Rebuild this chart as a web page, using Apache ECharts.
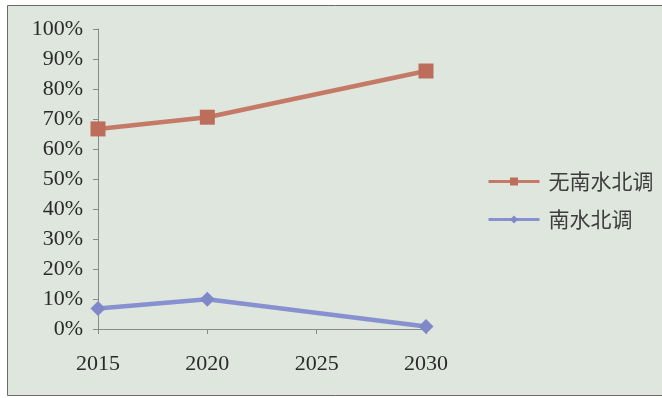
<!DOCTYPE html>
<html><head><meta charset="utf-8">
<script src="https://cdn.jsdelivr.net/npm/echarts@6/dist/echarts.min.js"></script>
<style>html,body{margin:0;padding:0;background:#fff}#c{width:662px;height:398px}</style>
</head><body><div id="c"></div>
<script>
const years = [2015, 2020, 2030];
const seriesNames = ['无南水北调', '南水北调'];
const withoutTransfer = [66.7, 70.6, 86];
const withTransfer = [6.8, 9.9, 0.8];
const yTicks = [0, 10, 20, 30, 40, 50, 60, 70, 80, 90, 100];

const chart = echarts.init(document.getElementById('c'));
const serif = '"Liberation Serif", "Times New Roman", serif';
chart.setOption({
  animation: false,
  backgroundColor: '#ffffff',
  graphic: [{
    type: 'rect', z: -10,
    shape: { x: 7.5, y: 5.5, width: 662, height: 390 },
    style: { fill: '#dee6dd', stroke: '#6a6a6a', lineWidth: 1 }
  }],
  grid: { left: 98, right: 236, top: 29, bottom: 69 },
  legend: {
    orient: 'vertical', left: 487, top: 171, itemGap: 17, padding: 0,
    itemWidth: 51, itemHeight: 10,
    lineStyle: { width: 3 },
    textStyle: { fontFamily: '"Noto Sans CJK SC", sans-serif', fontSize: 21, color: '#3d3d3d', padding: [0, 0, 0, 4] },
    data: seriesNames
  },
  xAxis: {
    type: 'value', min: 2015, max: 2030, interval: 5,
    axisLine: { show: true, lineStyle: { color: '#8a8a8a', width: 1 } },
    axisTick: { show: true, length: 5, lineStyle: { color: '#8a8a8a' } },
    splitLine: { show: false },
    axisLabel: { color: '#2a2a2a', fontFamily: serif, fontSize: 22, margin: 24, formatter: v => String(v) }
  },
  yAxis: {
    type: 'value', min: yTicks[0], max: yTicks[yTicks.length - 1], interval: 10,
    axisLine: { show: true, lineStyle: { color: '#8a8a8a', width: 1 } },
    axisTick: { show: true, length: 5, lineStyle: { color: '#8a8a8a' } },
    splitLine: { show: false },
    axisLabel: { color: '#2a2a2a', fontFamily: serif, fontSize: 22, margin: 15, formatter: '{value}%' }
  },
  series: [{
    name: seriesNames[0], type: 'line',
    data: years.map((y, i) => [y, withoutTransfer[i]]),
    symbol: 'rect', symbolSize: 15,
    lineStyle: { color: '#c47a66', width: 4.5 },
    itemStyle: { color: '#bd6e5a' }
  }, {
    name: seriesNames[1], type: 'line',
    data: years.map((y, i) => [y, withTransfer[i]]),
    symbol: 'diamond', symbolSize: 15,
    lineStyle: { color: '#8791cf', width: 4.5 },
    itemStyle: { color: '#7f89c8' }
  }]
});
</script></body></html>
